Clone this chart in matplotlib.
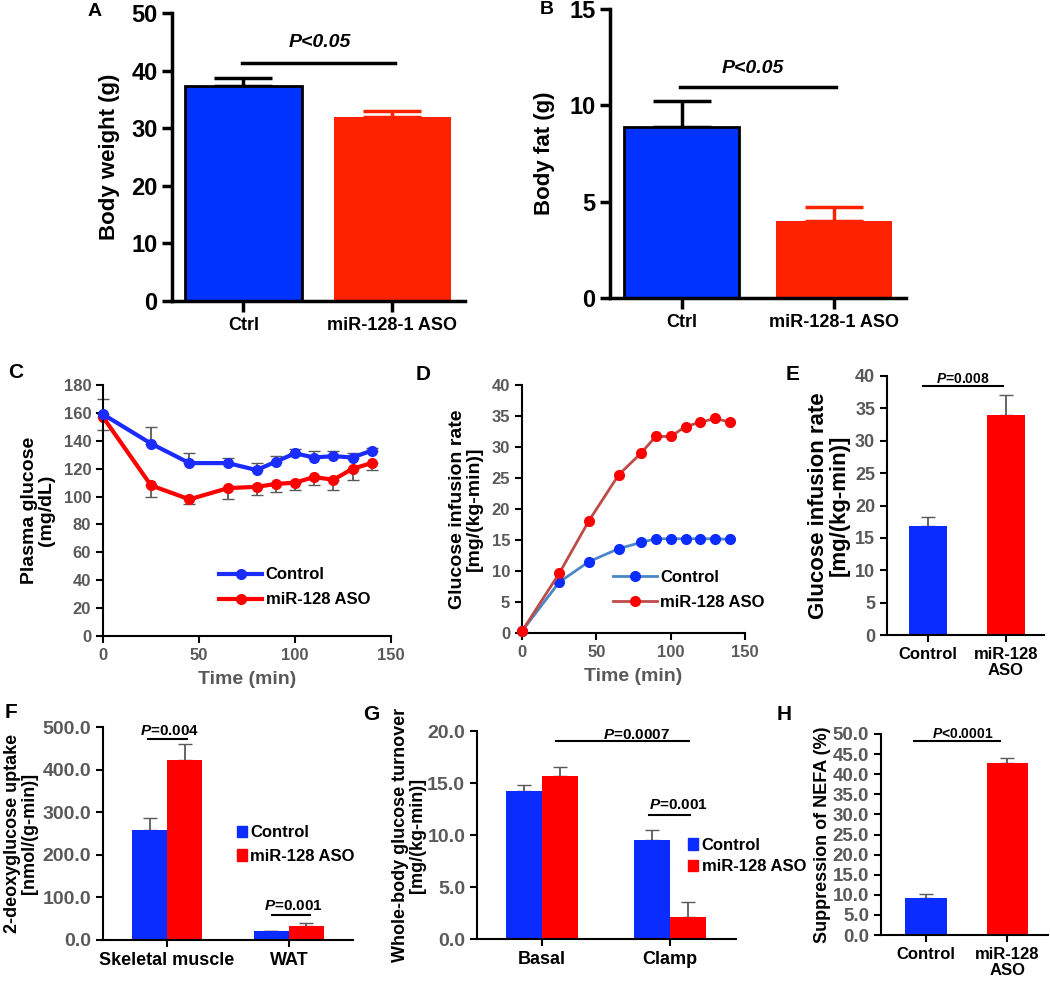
import matplotlib.pyplot as plt
from matplotlib.patches import Patch
from matplotlib.ticker import FormatStrFormatter

plt.rcParams['font.family'] = 'Liberation Sans'
plt.rcParams['font.weight'] = 'bold'
plt.rcParams['axes.labelweight'] = 'bold'
plt.rcParams['mathtext.fontset'] = 'custom'
plt.rcParams['mathtext.it'] = 'Liberation Sans:italic:bold'
plt.rcParams['mathtext.rm'] = 'Liberation Sans:bold'

# A / B : body weight and fat
groups_ab = ['Ctrl', 'miR-128-1 ASO']
weight = [37.3, 32.0]
weight_err = [1.5, 1.0]
fat = [8.9, 4.0]
fat_err = [1.3, 0.7]

# C : plasma glucose during clamp
time_min = [0, 25, 45, 65, 80, 90, 100, 110, 120, 130, 140]
glu_ctrl = [159, 138, 124, 124, 119, 125, 131, 128, 129, 128, 133]
glu_ctrl_err = [11, 12, 7, 4, 5, 4, 3, 5, 4, 3, 2]
glu_aso = [157, 108, 98, 106, 107, 109, 110, 114, 112, 120, 124]
glu_aso_err = [9, 8, 3, 8, 6, 6, 5, 6, 7, 8, 5]

# D : glucose infusion rate over time
gir_ctrl = [0.3, 8.2, 11.5, 13.6, 14.6, 15.2, 15.2, 15.2, 15.2, 15.2, 15.1]
gir_aso = [0.3, 9.6, 18.1, 25.5, 29.0, 31.7, 31.7, 33.3, 34.0, 34.6, 34.0]
gir_ctrl_err = [0.2, 0.6, 0.6, 0.5, 0.5, 0.5, 0.5, 0.5, 0.5, 0.5, 0.5]
gir_aso_err = [0.2, 0.6, 0.6, 0.6, 0.6, 0.6, 0.6, 0.6, 0.6, 0.6, 0.6]

# E : steady-state GIR
groups_e = ['Control', 'miR-128\nASO']
gir_mean = [16.9, 33.9]
gir_mean_err = [1.3, 3.1]

# F : 2-deoxyglucose uptake
tissues = ['Skeletal muscle', 'WAT']
uptake_ctrl = [258, 20]
uptake_ctrl_err = [28, 2]
uptake_aso = [423, 34]
uptake_aso_err = [38, 5]

# G : whole-body glucose turnover
phases = ['Basal', 'Clamp']
turn_ctrl = [14.2, 9.5]
turn_ctrl_err = [0.65, 0.95]
turn_aso = [15.7, 2.1]
turn_aso_err = [0.8, 1.5]

# H : NEFA suppression
nefa = [9.1, 42.8]
nefa_err = [1.0, 1.2]

blue1, red1 = '#0033ff', '#ff2200'
blue, red = '#0a2cff', '#ff0000'
gray = '#595959'

W, H = 1050, 983
fig = plt.figure(figsize=(W / 100, H / 100), dpi=100)


def box(l, t, r, b):
    return fig.add_axes([l / W, 1 - b / H, (r - l) / W, (b - t) / H])


def style(ax, lw=1.5, tcol=gray, fs=12):
    for s in ['top', 'right']:
        ax.spines[s].set_visible(False)
    for s in ['left', 'bottom']:
        ax.spines[s].set_linewidth(lw)
    ax.tick_params(width=lw, length=5, labelsize=fs, labelcolor=tcol, direction='out')


def up(err):
    return [[0] * len(err), err]


x = [0, 1]

# ---------- A ----------
ax = box(172, 13, 465, 301)
ax.bar(x, weight, 0.785, color=[blue1, red1], edgecolor=['black', red1], linewidth=[2, 0], zorder=2)
ax.errorbar(0, weight[0], yerr=[[0], [weight_err[0]]], color='black', lw=2.5, capsize=21, capthick=2.5, zorder=1)
ax.errorbar(1, weight[1], yerr=[[0], [weight_err[1]]], color=red1, lw=2.5, capsize=21, capthick=2.5, zorder=1)
ax.set_xlim(-0.48, 1.487)
ax.set_ylim(0, 50)
ax.set_yticks(range(0, 51, 10))
ax.set_xticks(x)
ax.set_xticklabels(groups_ab)
style(ax, lw=2.5, tcol='black', fs=13)
ax.tick_params(axis='y', labelsize=17, length=7)
ax.tick_params(axis='x', length=8)
ax.set_ylabel('Body weight (g)', fontsize=16, labelpad=8)
ax.plot([-0.01, 1.02], [41.4, 41.4], color='black', lw=2.5)
ax.text(0.51, 44.8, 'P<0.05', ha='center', va='center', fontsize=14, style='italic')
fig.text(88 / W, 1 - 12 / H, 'A', fontsize=14, va='center')

# ---------- B ----------
ax = box(610, 9, 906, 298)
ax.bar(x, fat, 0.76, color=[blue1, red1], edgecolor=['black', red1], linewidth=[2, 0], zorder=2)
ax.errorbar(0, fat[0], yerr=[[0], [fat_err[0]]], color='black', lw=2.5, capsize=21, capthick=2.5, zorder=1)
ax.errorbar(1, fat[1], yerr=[[0], [fat_err[1]]], color=red1, lw=2.5, capsize=21, capthick=2.5, zorder=1)
ax.set_xlim(-0.469, 1.472)
ax.set_ylim(0, 15)
ax.set_yticks([0, 5, 10, 15])
ax.set_xticks(x)
ax.set_xticklabels(groups_ab)
style(ax, lw=2.5, tcol='black', fs=13)
ax.tick_params(axis='y', labelsize=17, length=7)
ax.tick_params(axis='x', length=8)
ax.set_ylabel('Body fat (g)', fontsize=16, labelpad=10)
ax.plot([-0.01, 1.01], [10.95, 10.95], color='black', lw=2.5)
ax.text(0.47, 11.9, 'P<0.05', ha='center', va='center', fontsize=14, style='italic')
fig.text(540 / W, 1 - 10 / H, 'B', fontsize=14, va='center')

# ---------- C ----------
ax = box(103, 385, 391, 636)
ax.errorbar(time_min, glu_ctrl, yerr=up(glu_ctrl_err), fmt='none', ecolor=gray, elinewidth=1.3, capsize=4, zorder=1)
ax.errorbar(time_min, glu_aso, yerr=[glu_aso_err, [0] * len(glu_aso_err)], fmt='none', ecolor=gray,
            elinewidth=1.3, capsize=4, zorder=1)
ax.plot(time_min, glu_ctrl, color='#1a2cff', lw=3, marker='o', ms=7, label='Control', zorder=3)
ax.plot(time_min, glu_aso, color=red, lw=3, marker='o', ms=7, label='miR-128 ASO', zorder=2)
ax.set_xlim(0, 150)
ax.set_ylim(0, 180)
ax.set_yticks(range(0, 181, 20))
ax.set_xticks([0, 50, 100, 150])
style(ax, fs=12)
ax.set_ylabel('Plasma glucose\n(mg/dL)', fontsize=14, labelpad=6, linespacing=1.0)
ax.set_xlabel('Time (min)', fontsize=14, color=gray, labelpad=6)
ax.legend(loc='upper left', bbox_to_anchor=(0.38, 0.3), frameon=False, fontsize=12,
          handlelength=2.6, handletextpad=0.2, labelspacing=0.6, borderaxespad=0)
for ln in ax.lines:
    ln.set_clip_on(False)
fig.text(8 / W, 1 - 373 / H, 'C', fontsize=15, va='center')

# ---------- D ----------
ax = box(522, 385, 745, 633)
ax.errorbar(time_min, gir_ctrl, yerr=[gir_ctrl_err, [0] * len(gir_ctrl_err)], fmt='none', ecolor=gray,
            elinewidth=1, capsize=2, zorder=1)
ax.errorbar(time_min, gir_aso, yerr=[gir_aso_err, [0] * len(gir_aso_err)], fmt='none', ecolor=gray,
            elinewidth=1, capsize=2, zorder=1)
ax.plot(time_min, gir_ctrl, color='#4a86c8', lw=2, marker='o', ms=7, mfc=blue, mec=blue, label='Control', zorder=2)
ax.plot(time_min, gir_aso, color='#be4b48', lw=2, marker='o', ms=7, mfc=red, mec=red, label='miR-128 ASO', zorder=3)
ax.set_xlim(0, 150)
ax.set_ylim(0, 40)
ax.set_yticks(range(0, 41, 5))
ax.set_xticks([0, 50, 100, 150])
style(ax, fs=12)
ax.set_ylabel('Glucose infusion rate\n[mg/(kg-min)]', fontsize=14, labelpad=6, linespacing=1.0)
ax.set_xlabel('Time (min)', fontsize=14, color=gray, labelpad=6)
ax.legend(loc='upper left', bbox_to_anchor=(0.38, 0.28), frameon=False, fontsize=12,
          handlelength=2.6, handletextpad=0.2, labelspacing=0.6, borderaxespad=0)
for ln in ax.lines:
    ln.set_clip_on(False)
fig.text(416 / W, 1 - 375 / H, 'D', fontsize=15, va='center')

# ---------- E ----------
ax = box(887, 376, 1044, 635)
ax.bar(x, gir_mean, 0.49, color=[blue, red], zorder=2)
ax.errorbar(x, gir_mean, yerr=up(gir_mean_err), fmt='none', ecolor=gray, elinewidth=1.3, capsize=5, zorder=1)
ax.set_xlim(-0.526, 1.487)
ax.set_ylim(0, 40)
ax.set_yticks(range(0, 41, 5))
ax.set_xticks(x)
ax.set_xticklabels(groups_e, linespacing=1.1)
style(ax, fs=13)
ax.tick_params(axis='x', labelcolor='black', labelsize=12)
ax.set_ylabel('Glucose infusion rate\n[mg/(kg-min)]', fontsize=16, labelpad=4, linespacing=1.0)
ax.plot([-0.06, 0.96], [38.4, 38.4], color='black', lw=1.5)
ax.text(0.45, 39.5, '$P$=0.008', ha='center', va='center', fontsize=10)
fig.text(786 / W, 1 - 375 / H, 'E', fontsize=15, va='center')

# ---------- F ----------
ax = box(103, 727, 353, 940)
bw = 0.287
ax.bar([i - bw / 2 for i in x], uptake_ctrl, bw, color=blue, zorder=2)
ax.bar([i + bw / 2 for i in x], uptake_aso, bw, color=red, zorder=2)
ax.errorbar([i - bw / 2 for i in x], uptake_ctrl, yerr=up(uptake_ctrl_err), fmt='none', ecolor=gray,
            elinewidth=1.3, capsize=5, zorder=1)
ax.errorbar([i + bw / 2 for i in x], uptake_aso, yerr=up(uptake_aso_err), fmt='none', ecolor=gray,
            elinewidth=1.3, capsize=5, zorder=1)
ax.set_xlim(-0.525, 1.525)
ax.set_ylim(0, 500)
ax.set_yticks(range(0, 501, 100))
ax.yaxis.set_major_formatter(FormatStrFormatter('%.1f'))
ax.set_xticks(x)
ax.set_xticklabels(tissues)
style(ax, fs=14)
ax.tick_params(axis='x', labelcolor='black', labelsize=13)
ax.set_ylabel('2-deoxyglucose uptake\n[nmol/(g-min)]', fontsize=13, labelpad=3, linespacing=1.0)
ax.plot([-0.16, 0.16], [472, 472], color='black', lw=1.5)
ax.text(0.02, 490, '$P$=0.004', ha='center', va='center', fontsize=11)
ax.plot([-0.14 + 1, 0.17 + 1], [58, 58], color='black', lw=1.5)
ax.text(1.04, 80, '$P$=0.001', ha='center', va='center', fontsize=11)
ax.legend(handles=[Patch(color=blue, label='Control'), Patch(color=red, label='miR-128 ASO')],
          loc='upper left', bbox_to_anchor=(0.51, 0.57), frameon=False, fontsize=12,
          handlelength=0.6, handleheight=0.7, handletextpad=0.2, labelspacing=0.5, borderaxespad=0)
fig.text(5 / W, 1 - 713 / H, 'F', fontsize=15, va='center')

# ---------- G ----------
ax = box(477, 731, 736, 939)
bw = 0.28
ax.bar([i - bw / 2 for i in x], turn_ctrl, bw, color=blue, zorder=2)
ax.bar([i + bw / 2 for i in x], turn_aso, bw, color=red, zorder=2)
ax.errorbar([i - bw / 2 for i in x], turn_ctrl, yerr=up(turn_ctrl_err), fmt='none', ecolor=gray,
            elinewidth=1.3, capsize=5, zorder=1)
ax.errorbar([i + bw / 2 for i in x], turn_aso, yerr=up(turn_aso_err), fmt='none', ecolor=gray,
            elinewidth=1.3, capsize=5, zorder=1)
ax.set_xlim(-0.508, 1.516)
ax.set_ylim(0, 20)
ax.set_yticks(range(0, 21, 5))
ax.yaxis.set_major_formatter(FormatStrFormatter('%.1f'))
ax.set_xticks(x)
ax.set_xticklabels(phases)
style(ax, fs=14)
ax.tick_params(axis='x', labelcolor='black', labelsize=13)
ax.set_ylabel('Whole-body glucose turnover\n[mg/(kg-min)]', fontsize=13, labelpad=1, linespacing=1.0)
ax.plot([0.11, 1.15], [19.0, 19.0], color='black', lw=1.5)
ax.text(0.74, 19.6, '$P$=0.0007', ha='center', va='center', fontsize=11)
ax.plot([0.84, 1.16], [11.9, 11.9], color='black', lw=1.5)
ax.text(1.07, 12.9, '$P$=0.001', ha='center', va='center', fontsize=11)
ax.legend(handles=[Patch(color=blue, label='Control'), Patch(color=red, label='miR-128 ASO')],
          loc='upper left', bbox_to_anchor=(0.79, 0.52), frameon=False, fontsize=12,
          handlelength=0.6, handleheight=0.7, handletextpad=0.2, labelspacing=0.4, borderaxespad=0)
fig.text(363 / W, 1 - 715 / H, 'G', fontsize=15, va='center')

# ---------- H ----------
ax = box(881, 734, 1048, 935)
ax.bar(x, nefa, 0.51, color=[blue, red], zorder=2)
ax.errorbar(x, nefa, yerr=up(nefa_err), fmt='none', ecolor=gray, elinewidth=1.3, capsize=5, zorder=1)
ax.set_xlim(-0.552, 1.497)
ax.set_ylim(0, 50)
ax.set_yticks(range(0, 51, 5))
ax.yaxis.set_major_formatter(FormatStrFormatter('%.1f'))
ax.set_xticks(x)
ax.set_xticklabels(groups_e, linespacing=1.1)
style(ax, fs=13.5)
ax.tick_params(axis='x', labelcolor='black', labelsize=12)
ax.set_ylabel('Suppression of NEFA (%)', fontsize=13, labelpad=1)
ax.plot([-0.15, 0.91], [48.2, 48.2], color='black', lw=1.5)
ax.text(0.45, 49.9, '$P$<0.0001', ha='center', va='center', fontsize=10)
fig.text(777 / W, 1 - 714 / H, 'H', fontsize=15, va='center')

fig.savefig('out.png', dpi=100)
